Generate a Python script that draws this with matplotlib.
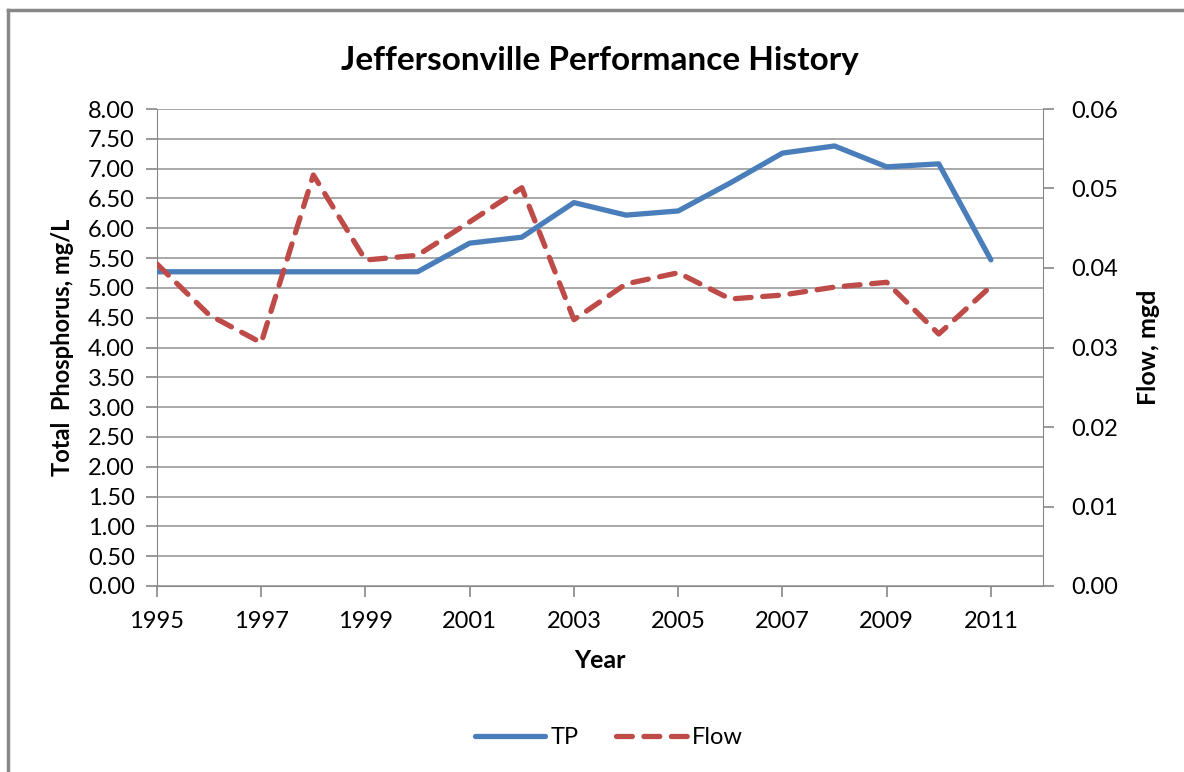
import matplotlib.pyplot as plt
from matplotlib.lines import Line2D

years = list(range(1995, 2012))
tp = [5.27, 5.27, 5.27, 5.27, 5.27, 5.27, 5.75, 5.85, 6.43, 6.22, 6.29,
      6.76, 7.26, 7.38, 7.03, 7.08, 5.47]
flow = [0.0405, 0.0341, 0.0306, 0.0517, 0.0410, 0.0416, 0.0458, 0.0501,
        0.0335, 0.0380, 0.0394, 0.0361, 0.0366, 0.0376, 0.0382, 0.0317, 0.0377]

plt.rcParams['font.family'] = ['Lato', 'DejaVu Sans']

fig = plt.figure(figsize=(11.84, 7.72), dpi=100, facecolor='white')

# outer chart frame (only left and top edges visible)
fig.add_artist(Line2D([8 / 1184, 8 / 1184], [0, 1 - 10 / 772], color='#888888', lw=2.5))
fig.add_artist(Line2D([8 / 1184, 1], [1 - 10 / 772, 1 - 10 / 772], color='#888888', lw=2.5))

ax = fig.add_axes([157 / 1184, 1 - 586 / 772, (1043 - 157) / 1184, (586 - 109) / 772])
ax2 = ax.twinx()

ax.plot(years, tp, color='#4a7ebb', lw=3.8, solid_capstyle='round', zorder=3)
ax2.plot(years, flow, color='#be4b48', lw=3.8, ls=(0, (3, 2.2)), dash_capstyle='round', zorder=3)

ax.set_xlim(1995, 2012)
ax.set_ylim(0, 8)
ax2.set_ylim(0, 0.06)
ax.set_xticks(range(1995, 2012, 2))
ax.set_yticks([i * 0.5 for i in range(17)])
ax.set_yticklabels(['%.2f' % (i * 0.5) for i in range(17)])
ax2.set_yticks([0, 0.01, 0.02, 0.03, 0.04, 0.05, 0.06])
ax2.set_yticklabels(['%.2f' % v for v in [0, 0.01, 0.02, 0.03, 0.04, 0.05, 0.06]])

ax.yaxis.grid(True, color='#999999', lw=1.2)
ax.set_axisbelow(True)

for a in (ax, ax2):
    a.spines['top'].set_visible(False)
    a.tick_params(colors='#888888', labelcolor='black', labelsize=17, length=8, width=1.2)
    a.spines['left'].set_color('#888888')
    a.spines['right'].set_color('#888888')
    a.spines['bottom'].set_color('#888888')
ax.spines['right'].set_visible(False)
ax2.spines['left'].set_visible(False)
ax2.spines['bottom'].set_visible(False)
ax.tick_params(axis='x', pad=10)
ax.tick_params(axis='y', pad=8)
ax2.tick_params(axis='y', pad=12)

ax.set_title('Jeffersonville Performance History', fontsize=24, fontweight='bold', pad=28)
ax.set_xlabel('Year', fontsize=18, fontweight='bold', labelpad=12)
ax.set_ylabel('Total  Phosphorus, mg/L', fontsize=17, fontweight='bold', labelpad=10)
ax2.set_ylabel('Flow, mgd', fontsize=18, fontweight='bold', labelpad=14)

handles = [Line2D([], [], color='#4a7ebb', lw=3.8, solid_capstyle='round'),
           Line2D([], [], color='#be4b48', lw=3.8, ls=(0, (3, 2.2)), dash_capstyle='round')]
fig.legend(handles, ['TP', 'Flow'], loc='center', bbox_to_anchor=(0.514, 1 - 738 / 772),
           ncol=2, frameon=False, fontsize=17, handlelength=3.0, handletextpad=0.2,
           columnspacing=1.6)

fig.savefig('out.png', dpi=100, facecolor='white')
